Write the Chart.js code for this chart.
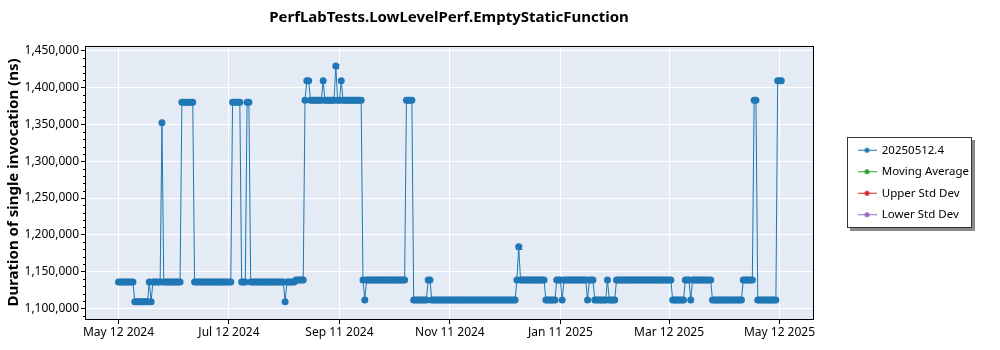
<!DOCTYPE html>
<html>
<head>
<meta charset="utf-8">
<script src="https://cdn.jsdelivr.net/npm/chart.js@4.4.1/dist/chart.umd.min.js"></script>
<style>
  html, body { margin: 0; padding: 0; background: #fff; }
  #wrap { width: 1000px; height: 350px; }
</style>
</head>
<body>
<div id="wrap"><canvas id="perfChart"></canvas></div>
<script>
// legend entries / colours
const seriesLabels = ["20250512.4", "Moving Average", "Upper Std Dev", "Lower Std Dev"];
const seriesColors = ["#1f77b4", "#2ca02c", "#d62728", "#9467bd"];

// x axis: days since May 12 2024
const tickDays = [0, 61, 122, 183, 244, 304, 365];
const tickLabels = ["May 12 2024", "Jul 12 2024", "Sep 11 2024", "Nov 11 2024", "Jan 11 2025", "Mar 12 2025", "May 12 2025"];

// y axis
const yTickValues = [1100000, 1150000, 1200000, 1250000, 1300000, 1350000, 1400000, 1450000];
const yMinorStep = 10000;

const runDays = [
  0, 1, 2, 3, 4, 5, 6, 7, 8, 9, 10, 11, 12, 13, 14, 15, 16, 17, 18, 19,
  20, 21, 22, 23, 24, 25, 26, 27, 28, 29, 30, 31, 32, 33, 34, 35, 36, 37, 38, 39,
  40, 41, 42, 43, 44, 45, 46, 47, 48, 49, 50, 51, 52, 53, 54, 55, 56, 57, 58, 59,
  60, 61, 62, 63, 64, 65, 66, 67, 68, 69, 70, 71, 72, 73, 74, 75, 76, 77, 78, 79,
  80, 81, 82, 83, 84, 85, 86, 87, 88, 89, 90, 91, 92, 93, 94, 95, 96, 97, 98, 99,
  100, 101, 102, 103, 104, 105, 106, 107, 108, 109, 110, 111, 112, 113, 114, 115, 116, 117, 118, 119,
  120, 121, 122, 123, 124, 125, 126, 127, 128, 129, 130, 131, 132, 133, 134, 135, 136, 137, 138, 139,
  140, 141, 142, 143, 144, 145, 146, 147, 148, 149, 150, 151, 152, 153, 154, 155, 156, 157, 158, 159,
  160, 161, 162, 163, 164, 165, 166, 167, 168, 169, 170, 171, 172, 173, 174, 175, 176, 177, 178, 179,
  180, 181, 182, 183, 184, 185, 186, 187, 188, 189, 190, 191, 192, 193, 194, 195, 196, 197, 198, 199,
  200, 201, 202, 203, 204, 205, 206, 207, 208, 209, 210, 211, 212, 213, 214, 215, 216, 217, 218, 219,
  220, 221, 222, 223, 224, 225, 226, 227, 228, 229, 230, 231, 232, 233, 234, 235, 236, 237, 238, 239,
  240, 241, 242, 243, 244, 245, 246, 247, 248, 249, 250, 251, 252, 253, 254, 255, 256, 257, 258, 259,
  260, 261, 262, 263, 264, 265, 266, 267, 268, 269, 270, 271, 272, 273, 274, 275, 276, 277, 278, 279,
  280, 281, 282, 283, 284, 285, 286, 287, 288, 289, 290, 291, 292, 293, 294, 295, 296, 297, 298, 299,
  300, 301, 302, 303, 304, 305, 306, 307, 308, 309, 310, 311, 312, 313, 314, 315, 316, 317, 318, 319,
  320, 321, 322, 323, 324, 325, 326, 327, 328, 329, 330, 331, 332, 333, 334, 335, 336, 337, 338, 339,
  340, 341, 342, 343, 344, 345, 346, 347, 348, 349, 350, 351, 352, 353, 354, 355, 356, 357, 358, 359,
  360, 361, 362, 363, 364, 365, 366
];

// duration of single invocation (ns), one value per run day
const durations = [
  1135800, 1135800, 1135800, 1135800, 1135800, 1135800, 1135800, 1135800, 1135800,
  1109000, 1109000, 1109000, 1109000, 1109000, 1109000, 1109000, 1109000,
  1135800, 1109000,
  1135800, 1135800, 1135800, 1135800, 1135800,
  1352500,
  1135800, 1135800, 1135800, 1135800, 1135800, 1135800, 1135800, 1135800, 1135800, 1135800,
  1380200, 1380200, 1380200, 1380200, 1380200, 1380200, 1380200,
  1135800, 1135800, 1135800, 1135800, 1135800, 1135800, 1135800, 1135800, 1135800, 1135800,
  1135800, 1135800, 1135800, 1135800, 1135800, 1135800, 1135800, 1135800, 1135800, 1135800,
  1135800,
  1380200, 1380200, 1380200, 1380200, 1380200,
  1135800, 1135800, 1135800,
  1380200, 1380200,
  1135800, 1135800, 1135800, 1135800, 1135800, 1135800, 1135800, 1135800, 1135800, 1135800,
  1135800, 1135800, 1135800, 1135800, 1135800, 1135800, 1135800, 1135800, 1135800,
  1109000,
  1135800, 1135800, 1135800, 1135800, 1135800,
  1138500, 1138500, 1138500, 1138500, 1138500,
  1383000,
  1409600, 1409600,
  1383000, 1383000, 1383000, 1383000, 1383000, 1383000, 1383000,
  1409600,
  1383000, 1383000, 1383000, 1383000, 1383000, 1383000,
  1429600,
  1383000, 1383000,
  1409600,
  1383000, 1383000, 1383000, 1383000, 1383000, 1383000, 1383000, 1383000, 1383000, 1383000,
  1383000,
  1138500,
  1111300,
  1138500, 1138500, 1138500, 1138500, 1138500, 1138500, 1138500, 1138500, 1138500, 1138500,
  1138500, 1138500, 1138500, 1138500, 1138500, 1138500, 1138500, 1138500, 1138500, 1138500,
  1138500, 1138500,
  1383000, 1383000, 1383000, 1383000,
  1111300, 1111300, 1111300, 1111300, 1111300, 1111300, 1111300, 1111300,
  1138500, 1138500,
  1111300, 1111300, 1111300, 1111300, 1111300, 1111300, 1111300, 1111300, 1111300, 1111300,
  1111300, 1111300, 1111300, 1111300, 1111300, 1111300, 1111300, 1111300, 1111300, 1111300,
  1111300, 1111300, 1111300, 1111300, 1111300, 1111300, 1111300, 1111300, 1111300, 1111300,
  1111300, 1111300, 1111300, 1111300, 1111300, 1111300, 1111300, 1111300, 1111300, 1111300,
  1111300, 1111300, 1111300, 1111300, 1111300, 1111300, 1111300,
  1138500,
  1183800,
  1138500, 1138500, 1138500, 1138500, 1138500, 1138500, 1138500, 1138500, 1138500, 1138500,
  1138500, 1138500, 1138500, 1138500,
  1111300, 1111300, 1111300, 1111300, 1111300, 1111300,
  1138500, 1138500, 1138500,
  1111300,
  1138500, 1138500, 1138500, 1138500, 1138500, 1138500, 1138500, 1138500, 1138500, 1138500,
  1138500, 1138500, 1138500,
  1111300,
  1138500, 1138500, 1138500,
  1111300, 1111300, 1111300, 1111300, 1111300, 1111300, 1111300,
  1138500,
  1111300, 1111300, 1111300, 1111300,
  1138500, 1138500, 1138500, 1138500, 1138500, 1138500, 1138500, 1138500, 1138500, 1138500,
  1138500, 1138500, 1138500, 1138500, 1138500, 1138500, 1138500, 1138500, 1138500, 1138500,
  1138500, 1138500, 1138500, 1138500, 1138500, 1138500, 1138500, 1138500, 1138500, 1138500,
  1138500,
  1111300, 1111300, 1111300, 1111300, 1111300, 1111300, 1111300,
  1138500, 1138500, 1138500,
  1111300,
  1138500, 1138500, 1138500, 1138500, 1138500, 1138500, 1138500, 1138500, 1138500, 1138500,
  1138500,
  1111300, 1111300, 1111300, 1111300, 1111300, 1111300, 1111300, 1111300, 1111300, 1111300,
  1111300, 1111300, 1111300, 1111300, 1111300, 1111300, 1111300,
  1138500, 1138500, 1138500, 1138500, 1138500, 1138500,
  1383000, 1383000,
  1111300, 1111300, 1111300, 1111300, 1111300, 1111300, 1111300, 1111300, 1111300, 1111300,
  1111300,
  1409600, 1409600, 1409600
];

// the two runs that carry a small error bar
const errorBarDays = [120, 221];
const errorBarLow = [1427200, 1181300];
const errorBarHigh = [1432000, 1186300];

// the other three series have no points in this chart
const movingAverage = [];
const upperStdDev = [];
const lowerStdDev = [];

const fontFamily = "'Noto Sans', sans-serif";
Chart.defaults.font.family = fontFamily;
Chart.defaults.color = "#000";

// little "line with a dot" marks for the legend
function legendMark(color) {
  const c = document.createElement("canvas");
  c.width = 19;
  c.height = 7;
  const g = c.getContext("2d");
  g.fillStyle = color;
  g.fillRect(0, 3, 19, 1);
  g.beginPath();
  g.arc(9.5, 3.5, 2.5, 0, Math.PI * 2);
  g.fill();
  return c;
}
const legendMarks = seriesColors.map(legendMark);

const plotFrame = {
  id: "plotFrame",
  beforeLayout(chart) {
    const lg = chart.legend;
    if (lg && !lg.fixedWidth) {
      const fit = lg.fit.bind(lg);
      lg.fit = () => { fit(); lg.width = 125; };
      lg.fixedWidth = true;
    }
  },
  beforeDraw(chart) {
    const { ctx, chartArea: a } = chart;
    ctx.save();
    ctx.fillStyle = "#e5ebf5";
    ctx.fillRect(a.left, a.top, a.right - a.left, a.bottom - a.top);

    const lg = chart.legend;
    if (lg && lg.legendHitBoxes && lg.legendHitBoxes.length) {
      const hb = lg.legendHitBoxes;
      const last = hb[hb.length - 1];
      const x = Math.round(lg.left) - 1;
      const y = Math.round(hb[0].top - 8);
      const w = 125;
      const h = Math.round(last.top + last.height + 7) - y;
      ctx.fillStyle = "#8a8a8a";
      ctx.fillRect(x + 3, y + 3, w, h);
      ctx.fillStyle = "#fff";
      ctx.fillRect(x, y, w, h);
      ctx.strokeStyle = "#333";
      ctx.lineWidth = 1;
      ctx.strokeRect(x + 0.5, y + 0.5, w - 1, h - 1);
    }
    ctx.restore();
  },
  afterDatasetsDraw(chart) {
    const { ctx } = chart;
    const xs = chart.scales.x, ys = chart.scales.y;
    ctx.save();
    ctx.strokeStyle = seriesColors[0];
    ctx.lineWidth = 1;
    errorBarDays.forEach((d, i) => {
      const px = Math.round(xs.getPixelForValue(d)) + 0.5;
      const lo = Math.round(ys.getPixelForValue(errorBarLow[i])) + 0.5;
      const hi = Math.round(ys.getPixelForValue(errorBarHigh[i])) + 0.5;
      ctx.beginPath();
      ctx.moveTo(px, lo); ctx.lineTo(px, hi);
      ctx.moveTo(px - 3, lo); ctx.lineTo(px + 3, lo);
      ctx.moveTo(px - 3, hi); ctx.lineTo(px + 3, hi);
      ctx.stroke();
    });
    ctx.restore();
  },
  afterDraw(chart) {
    const { ctx, chartArea: a } = chart;
    const ys = chart.scales.y;
    ctx.save();
    ctx.strokeStyle = "#000";
    ctx.lineWidth = 1;
    const l = Math.round(a.left), t = Math.round(a.top);
    ctx.strokeRect(l + 0.5, t + 0.5, Math.round(a.right) - l, Math.round(a.bottom) - t);
    // minor tick marks on the value axis
    ctx.beginPath();
    for (let v = ys.min - (ys.min % yMinorStep) + yMinorStep; v <= ys.max; v += yMinorStep) {
      if (v % 50000 === 0) continue;
      const py = Math.round(ys.getPixelForValue(v)) + 0.5;
      ctx.moveTo(l - 2, py);
      ctx.lineTo(l, py);
    }
    ctx.stroke();
    ctx.restore();
  }
};

const ctx = document.getElementById("perfChart").getContext("2d");
new Chart(ctx, {
  type: "line",
  data: {
    datasets: [
      {
        label: seriesLabels[0],
        data: runDays.map((d, i) => ({ x: d, y: durations[i] })),
        borderColor: seriesColors[0],
        backgroundColor: seriesColors[0],
        borderWidth: 1,
        pointRadius: 3.5,
        pointBorderWidth: 0,
        pointHoverRadius: 3.5,
        tension: 0
      },
      { label: seriesLabels[1], data: movingAverage, borderColor: seriesColors[1], backgroundColor: seriesColors[1] },
      { label: seriesLabels[2], data: upperStdDev, borderColor: seriesColors[2], backgroundColor: seriesColors[2] },
      { label: seriesLabels[3], data: lowerStdDev, borderColor: seriesColors[3], backgroundColor: seriesColors[3] }
    ]
  },
  options: {
    responsive: true,
    maintainAspectRatio: false,
    animation: false,
    layout: { padding: { left: 0, right: 27, top: 0, bottom: 0 } },
    plugins: {
      title: {
        display: true,
        fullSize: false,
        text: "PerfLabTests.LowLevelPerf.EmptyStaticFunction",
        font: { family: fontFamily, size: 15, weight: "bold" },
        color: "#000",
        padding: { top: 9, bottom: 19 }
      },
      legend: {
        position: "right",
        fullSize: false,
        labels: {
          usePointStyle: true,
          pointStyleWidth: 18,
          padding: 10,
          font: { family: fontFamily, size: 11.5 },
          color: "#000",
          generateLabels(chart) {
            return chart.data.datasets.map((ds, i) => ({
              text: ds.label,
              pointStyle: legendMarks[i],
              fillStyle: ds.borderColor,
              strokeStyle: ds.borderColor,
              lineWidth: 0,
              hidden: false,
              datasetIndex: i
            }));
          }
        }
      },
      tooltip: { enabled: false }
    },
    scales: {
      x: {
        type: "linear",
        min: -18.5,
        max: 383.5,
        afterBuildTicks(scale) {
          scale.ticks = tickDays.map(v => ({ value: v }));
        },
        ticks: {
          autoSkip: false,
          maxRotation: 0,
          padding: 1,
          font: { family: fontFamily, size: 12 },
          color: "#000",
          callback: (v, i) => tickLabels[i]
        },
        grid: { color: "#fff", lineWidth: 1, tickLength: 5, tickColor: "#000" },
        border: { color: "#000" },
        afterFit(scale) { scale.height = 31; }
      },
      y: {
        type: "linear",
        min: 1085400,
        max: 1456800,
        afterBuildTicks(scale) {
          scale.ticks = yTickValues.map(v => ({ value: v }));
        },
        ticks: {
          autoSkip: false,
          padding: 2,
          font: { family: fontFamily, size: 12 },
          color: "#000",
          callback: v => v.toLocaleString("en-US")
        },
        grid: { color: "#fff", lineWidth: 1, tickColor: "#000", tickLength: 4 },
        border: { color: "#000" },
        title: {
          display: true,
          text: "Duration of single invocation (ns)",
          font: { family: fontFamily, size: 15, weight: "bold" },
          color: "#000",
          padding: { top: 5, bottom: 0 }
        },
        afterFit(scale) { scale.width = 85; }
      },
      gap: {
        type: "linear",
        position: "right",
        display: true,
        grid: { display: false, drawTicks: false },
        border: { display: false },
        ticks: { display: false },
        afterFit(scale) { scale.width = 35; }
      }
    }
  },
  plugins: [plotFrame]
});
</script>
</body>
</html>
